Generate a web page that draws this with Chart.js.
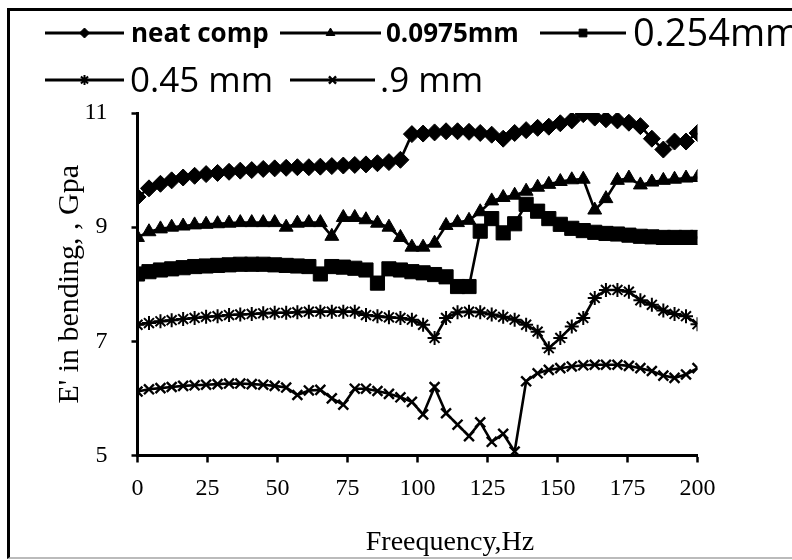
<!DOCTYPE html>
<html><head><meta charset="utf-8">
<script src="https://cdn.jsdelivr.net/npm/chart.js@4.4.0/dist/chart.umd.min.js"></script>
<style>
html,body{margin:0;padding:0;background:#fff;}
#wrap{position:relative;width:792px;height:560px;overflow:hidden;background:#fff;}
#frame{position:absolute;left:7px;top:8px;width:820px;height:546px;border-left:3px solid #000;border-top:3px solid #000;border-bottom:2px solid #bbb;}
canvas{position:absolute;left:0;top:0;}
</style></head><body>
<div id="wrap"><div id="frame"></div><canvas id="c" width="792" height="560"></canvas></div>
<script>
const frequencyHz = [0,4.1,8.2,12.2,16.3,20.4,24.5,28.6,32.7,36.7,40.8,44.9,49,53.1,57.1,61.2,65.3,69.4,73.5,77.6,81.6,85.7,89.8,93.9,98,102,106.1,110.2,114.3,118.4,122.4,126.5,130.6,134.7,138.8,142.9,146.9,151,155.1,159.2,163.3,167.3,171.4,175.5,179.6,183.7,187.8,191.8,195.9,200];
const neatComp = [9.53,9.68,9.76,9.82,9.87,9.9,9.93,9.95,9.97,9.99,10.0,10.02,10.03,10.04,10.05,10.05,10.06,10.07,10.08,10.09,10.1,10.12,10.14,10.18,10.63,10.64,10.66,10.68,10.68,10.67,10.65,10.62,10.55,10.65,10.7,10.74,10.76,10.82,10.87,10.98,10.92,10.89,10.87,10.83,10.77,10.55,10.36,10.5,10.5,10.65];
const mm0975 = [8.82,8.92,8.97,9.0,9.02,9.04,9.05,9.06,9.07,9.08,9.08,9.08,9.08,9.0,9.07,9.08,9.08,8.84,9.17,9.17,9.13,9.07,9.0,8.82,8.65,8.65,8.72,9.03,9.08,9.12,9.27,9.46,9.52,9.56,9.63,9.7,9.75,9.8,9.83,9.84,9.3,9.5,9.82,9.86,9.74,9.79,9.82,9.84,9.86,9.87];
const mm254 = [8.18,8.22,8.25,8.27,8.29,8.31,8.32,8.33,8.34,8.35,8.35,8.35,8.34,8.33,8.32,8.31,8.18,8.31,8.3,8.28,8.25,8.02,8.27,8.25,8.22,8.2,8.17,8.13,7.96,7.96,8.93,9.15,8.9,9.06,9.4,9.28,9.15,9.05,8.98,8.94,8.91,8.89,8.88,8.86,8.84,8.83,8.82,8.82,8.82,8.82];
const mm45 = [7.29,7.32,7.35,7.37,7.39,7.41,7.43,7.44,7.46,7.47,7.48,7.49,7.5,7.5,7.51,7.52,7.52,7.52,7.52,7.52,7.46,7.44,7.42,7.41,7.38,7.29,7.06,7.41,7.51,7.52,7.51,7.47,7.43,7.38,7.29,7.17,6.88,7.06,7.26,7.41,7.76,7.9,7.9,7.87,7.72,7.64,7.54,7.48,7.44,7.3];
const mm9 = [6.12,6.16,6.18,6.2,6.22,6.23,6.24,6.25,6.26,6.26,6.25,6.24,6.22,6.19,6.06,6.14,6.15,6.0,5.89,6.17,6.17,6.13,6.08,6.02,5.94,5.72,6.2,5.74,5.54,5.34,5.58,5.24,5.38,5.07,6.3,6.44,6.5,6.53,6.56,6.58,6.59,6.59,6.59,6.57,6.53,6.48,6.4,6.36,6.42,6.53];
const seriesNames = ['neat comp','0.0975mm','0.254mm','0.45 mm','.9 mm'];
const xTickValues = [0,25,50,75,100,125,150,175,200];
const yTickValues = [5,7,9,11];
const xTitle = 'Freequency,Hz';
const yTitle = "E' in bending, , Gpa";

const seriesData = [neatComp, mm0975, mm254, mm45, mm9];
const markerStyles = [
  {pointStyle:'rectRot', pointRadius:8.5, pointBorderWidth:1},
  {pointStyle:'triangle', pointRadius:8, pointBorderWidth:1},
  {pointStyle:'rect', pointRadius:10, pointBorderWidth:1},
  {pointStyle:'star', pointRadius:7, pointBorderWidth:2},
  {pointStyle:'crossRot', pointRadius:7, pointBorderWidth:2.4}
];
const datasets = seriesNames.map((name,i)=>Object.assign({
  label:name, data:seriesData[i], borderColor:'#000', backgroundColor:'#000',
  pointBackgroundColor:'#000', pointBorderColor:'#000', borderWidth:2.6, tension:0, fill:false
}, markerStyles[i]));

const legendLayout = [
  {x1:45,x2:124,y:33,tx:131,font:'bold 26px "Open Sans"',r:5},
  {x1:280,x2:381,y:33,tx:386,font:'bold 26px "Open Sans"',r:5},
  {x1:540,x2:626,y:33,tx:633,font:'38px "Open Sans"',r:5.5},
  {x1:45,x2:124,y:80,tx:130,font:'35px "Open Sans"',r:5},
  {x1:290,x2:375,y:80,tx:380,font:'35px "Open Sans"',r:5}
];
const titleLayout = {x:450, y:543, font:'28px "Liberation Serif"'};
const legendPlugin = {
  id:'customLegend',
  afterDraw(chart){
    const ctx = chart.ctx;
    ctx.save();
    chart.data.datasets.forEach((ds,i)=>{
      const L = legendLayout[i];
      ctx.strokeStyle='#000'; ctx.fillStyle='#000'; ctx.lineWidth=2.8;
      ctx.beginPath(); ctx.moveTo(L.x1,L.y); ctx.lineTo(L.x2,L.y); ctx.stroke();
      ctx.lineWidth = ds.pointBorderWidth;
      Chart.helpers.drawPoint(ctx,{pointStyle:ds.pointStyle,radius:L.r,rotation:0,borderWidth:ds.pointBorderWidth},(L.x1+L.x2)/2,L.y);
      ctx.font = L.font; ctx.textBaseline='middle'; ctx.textAlign='left';
      ctx.fillText(ds.label, L.tx, L.y+2);
    });
    ctx.font = titleLayout.font; ctx.textAlign='center'; ctx.textBaseline='middle';
    ctx.fillText(xTitle, titleLayout.x, titleLayout.y);
    ctx.restore();
  }
};

new Chart(document.getElementById('c'), {
  type:'line',
  data:{labels:frequencyHz, datasets},
  options:{
    responsive:false, animation:false, devicePixelRatio:1,
    layout:{padding:{left:0,right:94.5,top:113,bottom:0}},
    plugins:{legend:{display:false}, tooltip:{enabled:false}},
    scales:{
      x:{type:'linear', min:0, max:200,
        afterBuildTicks(s){ s.ticks = xTickValues.map(v=>({value:v})); },
        ticks:{color:'#000', font:{family:'"Liberation Serif"', size:24}, padding:12, maxRotation:0, autoSkip:false},
        grid:{drawOnChartArea:false, drawTicks:true, tickLength:7, tickWidth:2.5, tickColor:'#000'},
        border:{display:true, color:'#000', width:3},
        title:{display:false},
        afterFit(s){ s.height = 104.5; }
      },
      y:{type:'linear', min:5, max:11,
        afterBuildTicks(s){ s.ticks = yTickValues.map(v=>({value:v})); },
        ticks:{color:'#000', font:{family:'"Liberation Serif"', size:24}, padding:24},
        grid:{drawOnChartArea:false, drawTicks:true, tickLength:6, tickWidth:2.5, tickColor:'#000'},
        border:{display:true, color:'#000', width:3},
        title:{display:true, text:yTitle, color:'#000', font:{family:'"Liberation Serif"', size:30}, padding:{top:52,bottom:0}},
        afterFit(s){ s.width = 137.5; }
      }
    }
  },
  plugins:[legendPlugin]
});
</script>
</body></html>
